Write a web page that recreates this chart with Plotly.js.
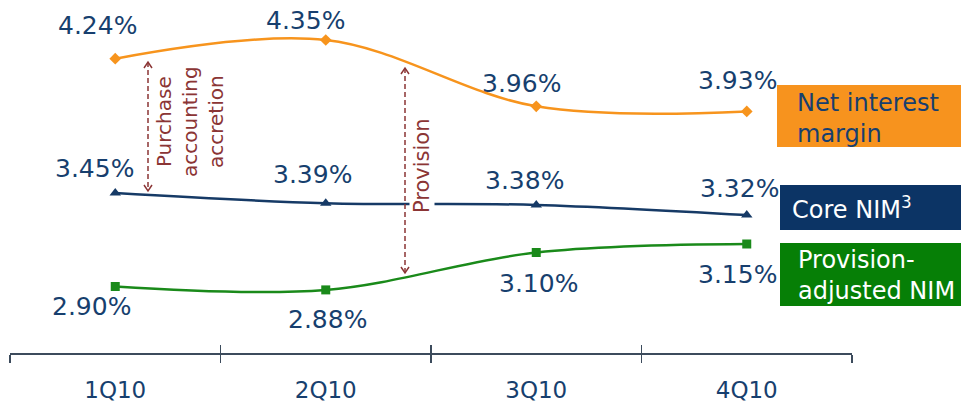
<!DOCTYPE html>
<html>
<head>
<meta charset="utf-8">
<script src="https://cdn.plot.ly/plotly-3.0.1.min.js"></script>
<style>html,body{margin:0;padding:0;background:#fff;}#chart{width:961px;height:409px;}</style>
</head>
<body>
<div id="chart"></div>
<script>
// ---- data ----
var quarters = ["1Q10", "2Q10", "3Q10", "4Q10"];
var netInterestMargin = [4.24, 4.35, 3.96, 3.93];
var coreNIM = [3.45, 3.39, 3.38, 3.32];
var provisionAdjustedNIM = [2.90, 2.88, 3.10, 3.15];
var seriesNames = ["Net interest<br>margin", "Core NIM<sup>3</sup>", "Provision-<br>adjusted NIM"];
var noteTexts = ["Purchase<br>accounting<br>accretion", "Provision"];

// ---- layout geometry (pixels) ----
var W = 961, H = 409;
var M = {l: 10, r: 109, t: 0, b: 56};
var PW = W - M.l - M.r, PH = H - M.t - M.b;
function px(x) { return (x - M.l) / PW; }
function py(y) { return 1 - (y - M.t) / PH; }

var FONT = "DejaVu Sans, Verdana, sans-serif";
var NAVY_TXT = "#173F6E";
var ORANGE = "#F7941D", NAVY = "#163A66", GREEN = "#1A8A1A";
var BOX_ORANGE = "#F7931E", BOX_NAVY = "#0C3465", BOX_GREEN = "#067F06";
var RED = "#8B3535";
var AXIS = "#3C4B5C";

var yMax = 4.35 + 40 / 170;
var yMin = yMax - PH / 170;
var boundaries = [-0.5, 0.5, 1.5, 2.5, 3.5];

var traces = [
  {x: quarters, y: netInterestMargin, type: "scatter", mode: "lines+markers",
   line: {color: ORANGE, width: 2.5, shape: "spline", smoothing: 1},
   marker: {symbol: "diamond", size: 9, color: ORANGE}, hoverinfo: "skip"},
  {x: quarters, y: coreNIM, type: "scatter", mode: "lines+markers",
   line: {color: NAVY, width: 2.5, shape: "spline", smoothing: 1},
   marker: {symbol: "triangle-up", size: 10, color: NAVY}, hoverinfo: "skip"},
  {x: quarters, y: provisionAdjustedNIM, type: "scatter", mode: "lines+markers",
   line: {color: GREEN, width: 2.5, shape: "spline", smoothing: 1},
   marker: {symbol: "square", size: 9, color: GREEN}, hoverinfo: "skip"},
  // invisible carriers so the overlay axes (boundary ticks) are drawn
  {x: boundaries, y: boundaries.map(function () { return yMin; }), xaxis: "x2", yaxis: "y",
   type: "scatter", mode: "markers", marker: {opacity: 0, size: 1}, hoverinfo: "skip"},
  {x: boundaries, y: boundaries.map(function () { return yMin; }), xaxis: "x3", yaxis: "y",
   type: "scatter", mode: "markers", marker: {opacity: 0, size: 1}, hoverinfo: "skip"}
];

// label offsets (pixels) for each series' value labels
var offsets = [
  [[-18, 33], [-20, 20], [-15, 23], [-9, 31]],
  [[-21, 25], [-13, 29], [-12, 24], [-7, 27]],
  [[-24, -20], [2, -30], [2, -31], [-9, -30]]
];
var allSeries = [netInterestMargin, coreNIM, provisionAdjustedNIM];

var annotations = [];
allSeries.forEach(function (s, si) {
  s.forEach(function (v, i) {
    annotations.push({
      x: quarters[i], y: v, xref: "x", yref: "y",
      text: v.toFixed(2) + "%", showarrow: false,
      xshift: offsets[si][i][0], yshift: offsets[si][i][1],
      font: {family: FONT, size: 25, color: NAVY_TXT}
    });
  });
});

// notes
annotations.push({
  x: px(190), y: py(122), xref: "paper", yref: "paper", text: noteTexts[0],
  textangle: -90, showarrow: false, xanchor: "center", yanchor: "middle",
  font: {family: FONT, size: 20, color: RED}
});
annotations.push({
  x: px(422), y: py(166), xref: "paper", yref: "paper", text: noteTexts[1],
  textangle: -90, showarrow: false, xanchor: "center", yanchor: "middle",
  bgcolor: "#ffffff", borderpad: 0,
  font: {family: FONT, size: 21, color: RED}
});

// legend boxes text
var boxes = [
  {x0: 777, x1: 961, y0: 85, y1: 147, color: BOX_ORANGE, tx: 795, ty: 118, tc: NAVY_TXT},
  {x0: 780, x1: 961, y0: 185, y1: 230, color: BOX_NAVY, tx: 790, ty: 208, tc: "#ffffff"},
  {x0: 780, x1: 961, y0: 243, y1: 306, color: BOX_GREEN, tx: 796, ty: 275, tc: "#ffffff"}
];
var shapes = [];
boxes.forEach(function (b, i) {
  shapes.push({type: "rect", xref: "paper", yref: "paper",
    x0: px(b.x0), x1: px(b.x1), y0: py(b.y1), y1: py(b.y0),
    fillcolor: b.color, line: {width: 0}, layer: "below"});
  annotations.push({x: px(b.tx), y: py(b.ty), xref: "paper", yref: "paper",
    text: seriesNames[i], showarrow: false, xanchor: "left", yanchor: "middle",
    align: "left", font: {family: FONT, size: 24, color: b.tc}});
});

// dashed double arrows
function arrow(x, yTop, yBot) {
  shapes.push({type: "line", xref: "paper", yref: "paper",
    x0: px(x), x1: px(x), y0: py(yTop), y1: py(yBot),
    line: {color: RED, width: 1.5, dash: "5px,3px"}});
  var p = function (a, b) { return px(a) + "," + py(b); };
  shapes.push({type: "path", xref: "paper", yref: "paper",
    path: "M" + p(x - 4, yTop + 6) + " L" + p(x, yTop) + " L" + p(x + 4, yTop + 6),
    line: {color: RED, width: 1.5}});
  shapes.push({type: "path", xref: "paper", yref: "paper",
    path: "M" + p(x - 4, yBot - 6) + " L" + p(x, yBot) + " L" + p(x + 4, yBot - 6),
    line: {color: RED, width: 1.5}});
}
arrow(148, 62, 191);
arrow(405, 68, 273);

var layout = {
  width: W, height: H,
  margin: M,
  paper_bgcolor: "#ffffff", plot_bgcolor: "#ffffff",
  showlegend: false,
  xaxis: {type: "category", range: [-0.5, 3.5], tickvals: quarters, ticktext: quarters,
    ticks: "", showline: false, showgrid: false, zeroline: false,
    ticklabelstandoff: 21, tickfont: {family: FONT, size: 23, color: NAVY_TXT}, fixedrange: true},
  xaxis2: {overlaying: "x", anchor: "y", type: "linear", range: [-0.5, 3.5], tickvals: boundaries,
    ticks: "outside", ticklen: 8, tickwidth: 1.5, tickcolor: AXIS,
    showline: true, linecolor: AXIS, linewidth: 2, showticklabels: false,
    showgrid: false, zeroline: false, fixedrange: true},
  xaxis3: {overlaying: "x", anchor: "y", type: "linear", range: [-0.5, 3.5], tickvals: boundaries,
    ticks: "inside", ticklen: 8, tickwidth: 1.5, tickcolor: AXIS,
    showline: false, showticklabels: false, showgrid: false, zeroline: false, fixedrange: true},
  yaxis: {range: [yMin, yMax], visible: false, showgrid: false, zeroline: false, fixedrange: true},
  annotations: annotations,
  shapes: shapes
};

Plotly.newPlot("chart", traces, layout, {displayModeBar: false, staticPlot: true});
</script>
</body>
</html>
